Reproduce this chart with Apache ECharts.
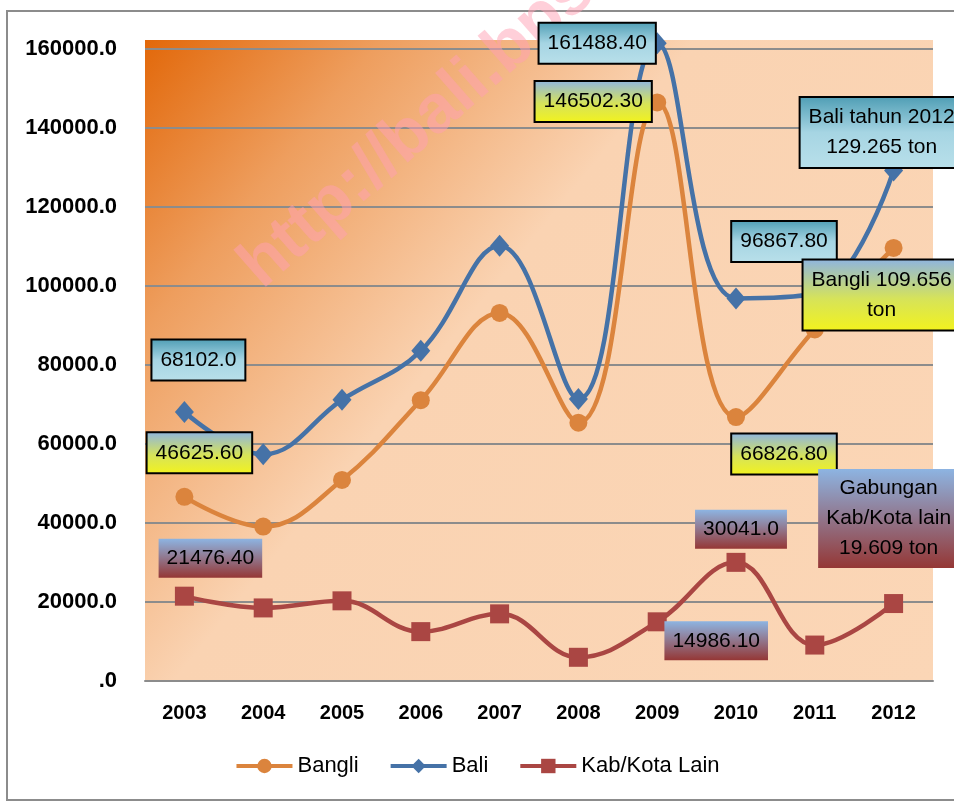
<!DOCTYPE html>
<html>
<head>
<meta charset="utf-8">
<script src="https://cdn.jsdelivr.net/npm/echarts@6/dist/echarts.min.js"></script>
<style>
  html, body { margin: 0; padding: 0; background: #fff; }
  #main { width: 954px; height: 802px; }
</style>
</head>
<body>
<div id="main"></div>
<script>
// data
const years = ['2003', '2004', '2005', '2006', '2007', '2008', '2009', '2010', '2011', '2012'];
const bangli = [46625.6, 39100, 50900, 71100, 93200, 65400, 146502.3, 66826.8, 89000, 109656];
const bali = [68102, 57400, 71200, 83600, 110200, 71400, 161488.4, 96867.8, 98100, 129265];
const kabKota = [21476.4, 18500, 20300, 12500, 17000, 6000, 14986.1, 30041, 9100, 19609];

// callout texts (null = no label)
const baliText = ['68102.0', null, null, null, null, null, '161488.40', '96867.80', null, 'Bali tahun 2012\n129.265 ton'];
const bangliText = ['46625.60', null, null, null, null, null, '146502.30', '66826.80', null, 'Bangli 109.656\nton'];
const kabText = ['21476.40', null, null, null, null, null, '14986.10', '30041.0', null, 'Gabungan\nKab/Kota lain\n19.609 ton'];

// label offsets from point centre
const baliOff = [[14, -52], null, null, null, null, null, [-60, 0], [48, -57], null, [-12, -38]];
const bangliOff = [[15, -44], null, null, null, null, null, [-64, -1], [48, 37], null, [-12, 47]];
const kabOff = [[26, -38], null, null, null, null, null, [59, 19], [5, -33], null, [-5, -85]];

const FONT = '"Liberation Sans Narrow", "Arial Narrow", "Liberation Sans", sans-serif';

function grad(stops) {
  return new echarts.graphic.LinearGradient(0, 0, 0, 1, stops.map(c => ({ offset: c[0], color: c[1] })));
}

const baliBg = grad([[0, '#4e9db4'], [0.5, '#a6d5e3'], [1, '#b9e0ea']]);
const bangliBg = grad([[0, '#8db4e2'], [0.55, '#d6e35a'], [1, '#f3f31c']]);
const kabBg = grad([[0, '#8db4e2'], [1, '#953735']]);

function buildData(values, texts, offs, bg, border) {
  return values.map((v, i) => {
    if (texts[i] == null) return v;
    return {
      value: v,
      label: {
        show: true,
        position: 'inside',
        offset: offs[i],
        formatter: texts[i],
        fontFamily: FONT,
        fontSize: 21,
        lineHeight: 30,
        color: '#000',
        align: 'center',
        backgroundColor: bg,
        borderColor: border ? '#000' : 'transparent',
        borderWidth: border ? 2 : 0,
        padding: [5, 8, 4, 8]
      }
    };
  });
}

const chart = echarts.init(document.getElementById('main'));
chart.setOption({
  animation: false,
  backgroundColor: '#fff',
  graphic: [
    {
      type: 'rect',
      z: -10,
      shape: { x: 7, y: 11, width: 970, height: 789 },
      style: { fill: 'none', stroke: '#8c8c8c', lineWidth: 2 }
    },
    {
      // watermark
      type: 'text',
      z: 1,
      x: 250,
      y: 276,
      rotation: 0.72,
      style: {
        text: 'http://bali.bps.go.id',
        fontSize: 68,
        fontWeight: 'bold',
        fontFamily: '"Liberation Sans", Arial, sans-serif',
        fill: 'rgba(255,160,180,0.5)',
        align: 'left',
        verticalAlign: 'middle'
      }
    }
  ],
  grid: {
    left: 145,
    right: 21,
    top: 40,
    bottom: 121,
    show: true,
    borderWidth: 0,
    backgroundColor: new echarts.graphic.LinearGradient(0, 0, 1, 1, [
      { offset: 0, color: '#e2680a' },
      { offset: 0.18, color: '#ee9e5e' },
      { offset: 0.42, color: '#fad3b2' },
      { offset: 1, color: '#fbd6b6' }
    ])
  },
  legend: {
    bottom: 20,
    left: 'center',
    itemWidth: 56,
    itemHeight: 18,
    itemGap: 30,
    lineStyle: { width: 4 },
    textStyle: { fontFamily: FONT, fontSize: 22, color: '#000' },
    data: ['Bangli', 'Bali', 'Kab/Kota Lain']
  },
  xAxis: {
    type: 'category',
    data: years,
    boundaryGap: true,
    axisLine: { lineStyle: { color: '#8c8c8c', width: 2 } },
    axisTick: { show: false },
    axisLabel: { margin: 22, fontFamily: FONT, fontSize: 20, fontWeight: 'bold', color: '#000' }
  },
  yAxis: {
    type: 'value',
    min: 0,
    max: 162300,
    interval: 20000,
    axisLine: { show: false },
    axisTick: { show: false },
    splitLine: { showMaxLine: false, lineStyle: { color: '#8c8c8c', width: 2 } },
    axisLabel: {
      margin: 28,
      showMaxLabel: false,
      fontFamily: FONT,
      fontSize: 22,
      fontWeight: 'bold',
      color: '#000',
      formatter: v => (v % 20000 !== 0 ? '' : (v === 0 ? '.0' : v.toFixed(1)))
    }
  },
  series: [
    {
      name: 'Bangli',
      type: 'line',
      smooth: 0.4,
      z: 5,
      data: buildData(bangli, bangliText, bangliOff, bangliBg, true),
      symbol: 'circle',
      symbolSize: 18,
      color: '#db843d',
      lineStyle: { width: 4.5, color: '#db843d' },
      itemStyle: { color: '#db843d' }
    },
    {
      name: 'Bali',
      type: 'line',
      smooth: 0.4,
      z: 4,
      data: buildData(bali, baliText, baliOff, baliBg, true),
      symbol: 'diamond',
      symbolSize: [19, 22],
      color: '#4572a7',
      lineStyle: { width: 4.5, color: '#4572a7' },
      itemStyle: { color: '#4572a7' }
    },
    {
      name: 'Kab/Kota Lain',
      type: 'line',
      smooth: 0.4,
      z: 5,
      data: buildData(kabKota, kabText, kabOff, kabBg, false),
      symbol: 'rect',
      symbolSize: 19,
      color: '#aa4643',
      lineStyle: { width: 4.5, color: '#aa4643' },
      itemStyle: { color: '#aa4643' }
    }
  ]
});
</script>
</body>
</html>
